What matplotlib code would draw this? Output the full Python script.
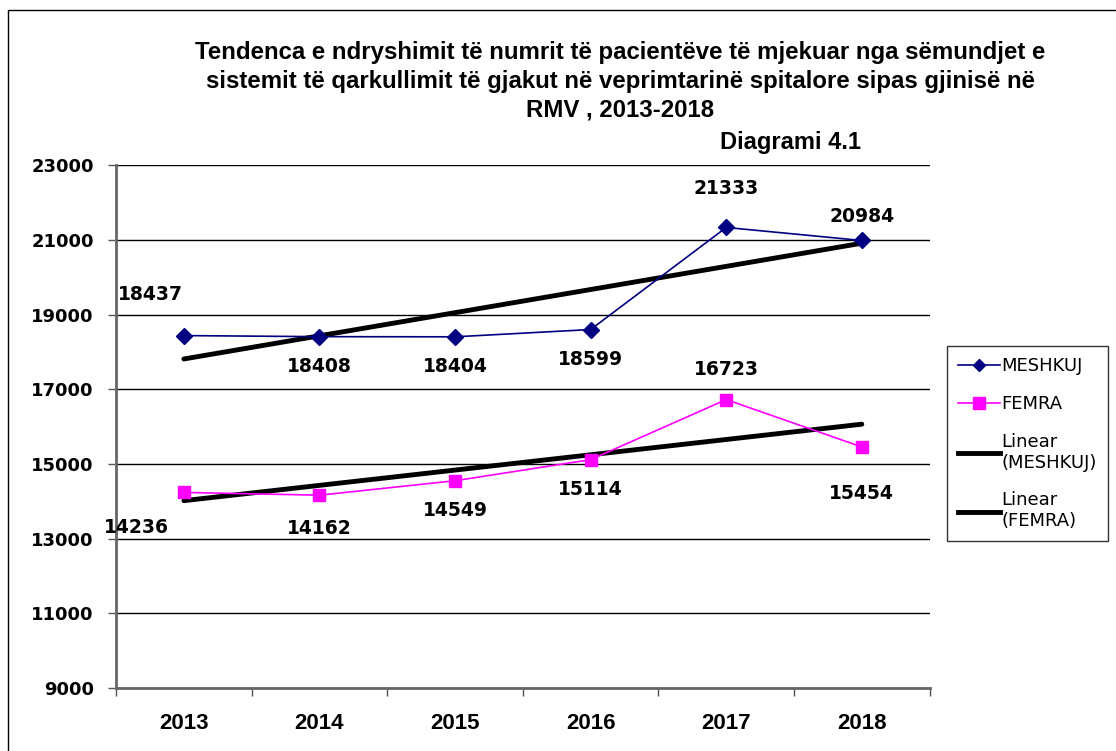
import matplotlib
matplotlib.use('Agg')
import matplotlib.pyplot as plt
from matplotlib.lines import Line2D
import numpy as np

years = ['2013', '2014', '2015', '2016', '2017', '2018']
meshkuj = [18437, 18408, 18404, 18599, 21333, 20984]
femra = [14236, 14162, 14549, 15114, 16723, 15454]
y_ticks = [9000, 11000, 13000, 15000, 17000, 19000, 21000, 23000]

title_font = ['Liberation Sans', 'DejaVu Sans']
num_font = ['DejaVu Sans']

fig = plt.figure(figsize=(11.16, 7.51), dpi=100)
# outer chart border (only top and left are visible in the picture)
fig.add_artist(Line2D([0.0075, 0.0075, 1.0], [0.0, 0.987, 0.987], transform=fig.transFigure,
                      color='black', linewidth=1.0))
ax = fig.add_axes([0.104, 0.084, 0.729, 0.696])

x = np.arange(len(years))
ax.plot(x, meshkuj, color='#000080', marker='D', markersize=8, linewidth=1.2, label='MESHKUJ', zorder=3)
ax.plot(x, femra, color='#FF00FF', marker='s', markersize=9, linewidth=1.2, label='FEMRA', zorder=3)

# linear trend lines
for data in (meshkuj, femra):
    k, b = np.polyfit(x, data, 1)
    ax.plot(x, k * x + b, color='black', linewidth=3.5, solid_capstyle='round', zorder=2)

ax.set_xlim(-0.5, len(years) - 0.5)
ax.set_ylim(9000, 23000)
ax.set_yticks(y_ticks)
ax.set_yticklabels([str(v) for v in y_ticks], fontsize=13, fontweight='bold', family=num_font)
ax.set_xticks(x)
ax.set_xticklabels(years, fontsize=16, fontweight='bold', family=title_font)
ax.set_xticks(np.arange(-0.5, len(years)), minor=True)
ax.tick_params(axis='x', which='major', length=0, pad=18)
ax.tick_params(axis='x', which='minor', length=6, color='#555555', width=1)
ax.tick_params(axis='y', length=6, color='#555555', width=1, pad=10)
ax.grid(axis='y', color='black', linewidth=1)
ax.set_axisbelow(True)
for side in ('top', 'right'):
    ax.spines[side].set_visible(False)
for side in ('left', 'bottom'):
    ax.spines[side].set_color('#666666')
    ax.spines[side].set_linewidth(2)

# data labels
m_off = [(-0.25, 1100), (0, -800), (0, -800), (0, -800), (0, 1050), (0, 650)]
f_off = [(-0.35, -950), (0, -900), (0, -800), (0, -800), (0, 800), (0, -1250)]
for i in range(len(years)):
    ax.text(x[i] + m_off[i][0], meshkuj[i] + m_off[i][1], str(meshkuj[i]), ha='center', va='center',
            fontsize=13.5, fontweight='bold', family=num_font)
    ax.text(x[i] + f_off[i][0], femra[i] + f_off[i][1], str(femra[i]), ha='center', va='center',
            fontsize=13.5, fontweight='bold', family=num_font)

fig.text(0.556, 0.892, 'Tendenca e ndryshimit të numrit të pacientëve të mjekuar nga sëmundjet e\n'
         'sistemit të qarkullimit të gjakut në veprimtarinë spitalore sipas gjinisë në\n'
         'RMV , 2013-2018', ha='center', va='center', fontsize=17.3, fontweight='bold',
         family=title_font, linespacing=1.3)
fig.text(0.708, 0.81, 'Diagrami 4.1', ha='center', va='center', fontsize=17, fontweight='bold',
         family=title_font)

handles = [
    Line2D([], [], color='#000080', marker='D', markersize=6, linewidth=1.2),
    Line2D([], [], color='#FF00FF', marker='s', markersize=8, linewidth=1.2),
    Line2D([], [], color='black', linewidth=3.5),
    Line2D([], [], color='black', linewidth=3.5),
]
labels = ['MESHKUJ', 'FEMRA', 'Linear\n(MESHKUJ)', 'Linear\n(FEMRA)']
leg = fig.legend(handles, labels, loc='upper left', bbox_to_anchor=(0.849, 0.539),
                 frameon=True, fancybox=False, edgecolor='black', borderaxespad=0,
                 handlelength=2.3, handletextpad=0.1, labelspacing=1.1,
                 borderpad=0.6, prop={'family': num_font, 'size': 13})
leg.get_frame().set_linewidth(1)

fig.savefig('out.png', dpi=100)
